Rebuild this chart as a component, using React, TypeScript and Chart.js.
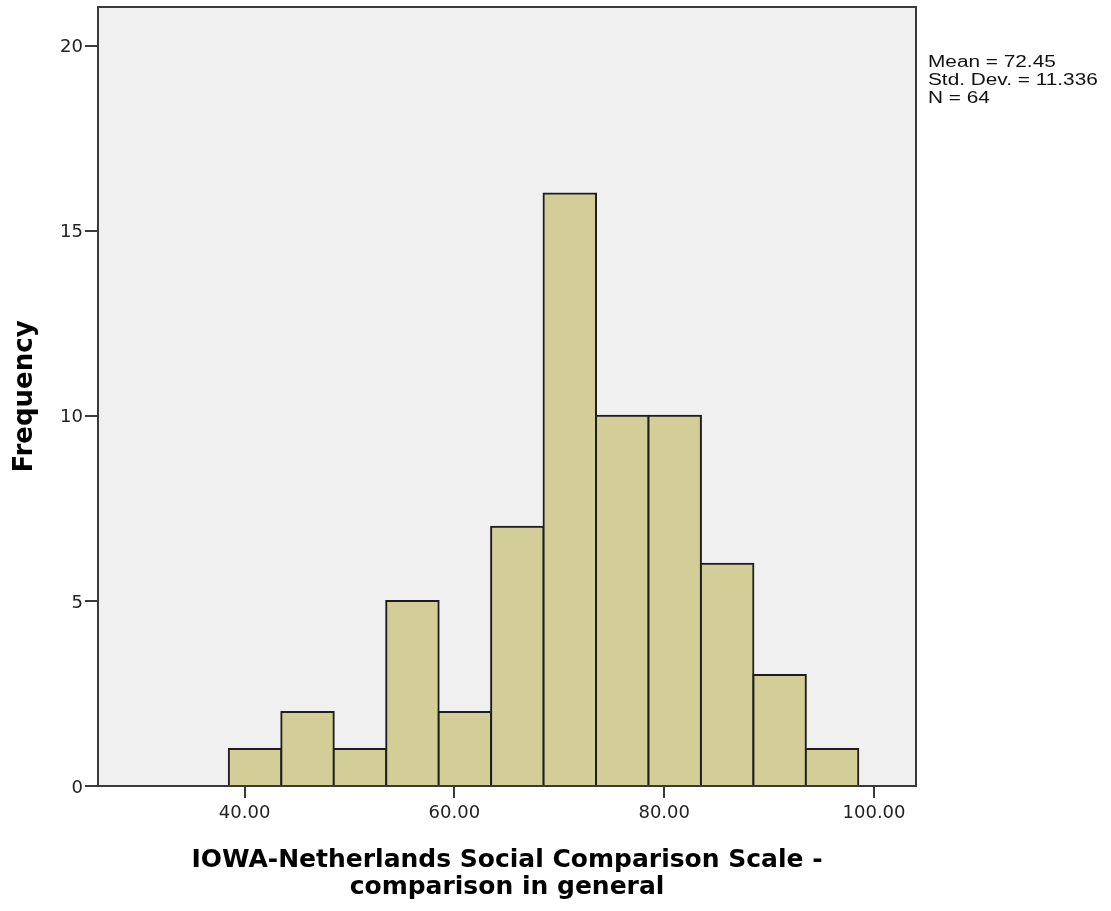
import React, { useEffect, useRef } from "react";
import { Chart, registerables } from "chart.js";

Chart.register(...registerables);

// ---- data ----
const binCenters = [41, 46, 51, 56, 61, 66, 71, 76, 81, 86, 91, 96];
const frequencies = [1, 2, 1, 5, 2, 7, 16, 10, 10, 6, 3, 1];
const xTickValues = [40, 60, 80, 100];
const yTickValues = [0, 5, 10, 15, 20];
const xTitleLines = ["IOWA-Netherlands Social Comparison Scale -", "comparison in general"];
const yTitleText = "Frequency";
const statsLines = ["Mean = 72.45", "Std. Dev. = 11.336", "N = 64"];

const X_MIN = 26.03;
const X_MAX = 104.0;
const Y_MIN = 0;
const Y_MAX = 21.04;

const framePlugin = {
  id: "spssFrame",
  beforeDraw(chart: any) {
    const { ctx, chartArea: a } = chart;
    ctx.save();
    ctx.fillStyle = "#ffffff";
    ctx.fillRect(0, 0, chart.width, chart.height);
    ctx.fillStyle = "#F0F0F0";
    ctx.fillRect(a.left, a.top, a.right - a.left, a.bottom - a.top);
    ctx.restore();
  },
  afterDatasetsDraw(chart: any) {
    const { ctx, chartArea: a } = chart;
    ctx.save();
    ctx.strokeStyle = "#3a3a3a";
    ctx.lineWidth = 2;
    ctx.strokeRect(a.left, a.top, a.right - a.left, a.bottom - a.top);
    ctx.restore();
  },
  afterDraw(chart: any) {
    const { ctx, chartArea: a } = chart;
    ctx.save();
    ctx.fillStyle = "#111111";
    ctx.font = '16px "Liberation Sans", Arial, sans-serif';
    ctx.textBaseline = "alphabetic";
    ctx.textAlign = "left";
    const x0 = a.right + 12;
    const baselines = [66.5, 84.8, 103.1];
    statsLines.forEach((line, i) => {
      ctx.save();
      ctx.translate(x0, baselines[i]);
      ctx.scale(1.3, 1);
      ctx.fillText(line, 0, 0);
      ctx.restore();
    });
    ctx.restore();
  },
};

export default function App() {
  const canvasRef = useRef<HTMLCanvasElement | null>(null);

  useEffect(() => {
    if (!canvasRef.current) return;
    const data = binCenters.map((c, i) => ({ x: c, y: frequencies[i] }));
    const chart = new Chart(canvasRef.current, {
      type: "bar",
      data: {
        datasets: [
          {
            data: data as any,
            backgroundColor: "#D3CE97",
            borderColor: "#1e1e1e",
            borderWidth: 2,
            inflateAmount: 1,
            barPercentage: 1,
            categoryPercentage: 1,
          } as any,
        ],
      },
      options: {
        responsive: false,
        devicePixelRatio: 1,
        animation: false,
        events: [],
        layout: { padding: { top: 7, right: 195, bottom: 0, left: 0 } },
        plugins: {
          legend: { display: false },
          tooltip: { enabled: false },
          title: { display: false },
        },
        scales: {
          x: {
            type: "linear",
            min: X_MIN,
            max: X_MAX,
            offset: false,
            afterBuildTicks: (s: any) => {
              s.ticks = xTickValues.map((v) => ({ value: v }));
            },
            afterFit: (s: any) => {
              s.height = 125;
              s.paddingLeft = 0;
              s.paddingRight = 0;
              s.paddingTop = 0;
              s.paddingBottom = 0;
            },
            grid: {
              display: true,
              offset: false,
              drawOnChartArea: false,
              drawTicks: true,
              tickLength: 12,
              color: "#3a3a3a",
              lineWidth: 2,
            },
            border: { display: false },
            ticks: {
              autoSkip: false,
              maxRotation: 0,
              padding: 5,
              color: "#222222",
              font: { family: "DejaVu Sans", size: 18 },
              callback: (v: any) => Number(v).toFixed(2),
            },
            title: {
              display: true,
              text: xTitleLines,
              color: "#000000",
              font: { family: "DejaVu Sans", size: 25, weight: "bold", lineHeight: 1.08 },
              padding: { top: 0, bottom: 10 },
            },
          },
          y: {
            type: "linear",
            min: Y_MIN,
            max: Y_MAX,
            afterBuildTicks: (s: any) => {
              s.ticks = yTickValues.map((v) => ({ value: v }));
            },
            afterFit: (s: any) => {
              s.width = 98;
              s.paddingLeft = 0;
              s.paddingRight = 0;
              s.paddingTop = 0;
              s.paddingBottom = 0;
            },
            grid: {
              display: true,
              offset: false,
              drawOnChartArea: false,
              drawTicks: true,
              tickLength: 13,
              color: "#3a3a3a",
              lineWidth: 2,
            },
            border: { display: false },
            ticks: {
              autoSkip: false,
              padding: 2,
              labelOffset: 2,
              color: "#222222",
              font: { family: "DejaVu Sans", size: 18 },
            },
            title: {
              display: true,
              text: yTitleText,
              color: "#000000",
              font: { family: "DejaVu Sans", size: 26, weight: "bold", lineHeight: 1.2 },
              padding: { top: 10, bottom: 0 },
            },
          },
        },
      },
      plugins: [framePlugin],
    });
    return () => chart.destroy();
  }, []);

  return (
    <div style={{ position: "absolute", left: 0, top: 0, width: 1111, height: 911 }}>
      <canvas ref={canvasRef} width={1111} height={911} style={{ display: "block", width: 1111, height: 911 }} />
    </div>
  );
}
